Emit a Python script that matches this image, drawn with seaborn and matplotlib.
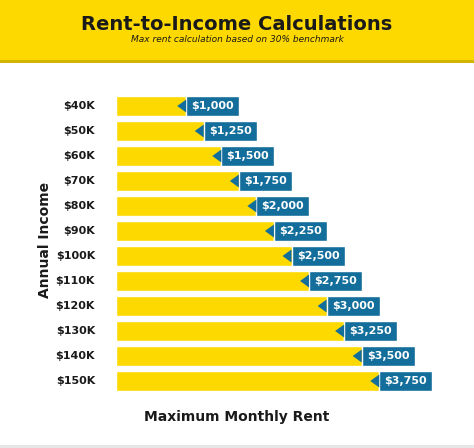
import matplotlib
matplotlib.use("Agg")
import matplotlib.pyplot as plt
from matplotlib.patches import Polygon, Rectangle
import pandas as pd
import seaborn as sns

# data
incomes = ["$40K", "$50K", "$60K", "$70K", "$80K", "$90K",
           "$100K", "$110K", "$120K", "$130K", "$140K", "$150K"]
rents = [1000, 1250, 1500, 1750, 2000, 2250, 2500, 2750, 3000, 3250, 3500, 3750]
rent_labels = ["$1,000", "$1,250", "$1,500", "$1,750", "$2,000", "$2,250",
               "$2,500", "$2,750", "$3,000", "$3,250", "$3,500", "$3,750"]

YELLOW = "#FDD900"
BLUE = "#136E9B"
DARK = "#1a1a1a"

df = pd.DataFrame({"income": incomes, "rent": rents})

sns.set_theme(style="white")
plt.rcParams["font.family"] = ["DejaVu Sans"]

fig = plt.figure(figsize=(4.74, 4.48), dpi=100)
fig.patch.set_facecolor("white")

# header band
fig.patches.append(Rectangle((0, 1 - 60 / 448), 1, 60 / 448, transform=fig.transFigure,
                             facecolor=YELLOW, edgecolor="none", zorder=0))
fig.patches.append(Rectangle((0, 1 - 63 / 448), 1, 3 / 448, transform=fig.transFigure,
                             facecolor="#D2B400", edgecolor="none", zorder=0))
fig.patches.append(Rectangle((0, 0), 1, 3 / 448, transform=fig.transFigure,
                             facecolor="#e6e6e6", edgecolor="none", zorder=0))

ax = fig.add_axes([0, 0, 1, 1])
ax.set_facecolor("none")

scale = 0.0702  # px per dollar
x0 = 116
sns.barplot(data=df, x="rent", y="income", orient="h", color=YELLOW,
            width=0.8, saturation=1, ax=ax)

box_w = 53 / scale
tip = 9 / scale
for i, (v, lab) in enumerate(zip(rents, rent_labels)):
    ax.barh(i, box_w, left=v, height=0.8, color=BLUE, zorder=3)
    ax.add_patch(Polygon([[v, i - 0.26], [v - tip, i], [v, i + 0.26]],
                         closed=True, facecolor=BLUE, edgecolor="none", zorder=3))
    ax.text(v + box_w / 2, i, lab, ha="center", va="center", color="white",
            fontsize=8, fontweight="bold", zorder=4)
    ax.text(-21 / scale, i, incomes[i], ha="right", va="center", color=DARK,
            fontsize=8, fontweight="bold")

ax.set_xlim(-x0 / scale, (474 - x0) / scale)
ax.set_ylim((448 - 106) / 25, -106 / 25)
ax.axis("off")

fig.text(0.5, 1 - 24 / 448, "Rent-to-Income Calculations", ha="center", va="center",
         fontsize=14, fontweight="bold", color=DARK)
fig.text(0.5, 1 - 40 / 448, "Max rent calculation based on 30% benchmark", ha="center",
         va="center", fontsize=6.5, style="italic", color=DARK)
fig.text(45 / 474, 1 - 240 / 448, "Annual Income", rotation=90, ha="center", va="center",
         fontsize=10, fontweight="bold", color=DARK)
fig.text(237 / 474, 1 - 417 / 448, "Maximum Monthly Rent", ha="center", va="center",
         fontsize=10, fontweight="bold", color=DARK)

fig.savefig("out.png", dpi=100)
